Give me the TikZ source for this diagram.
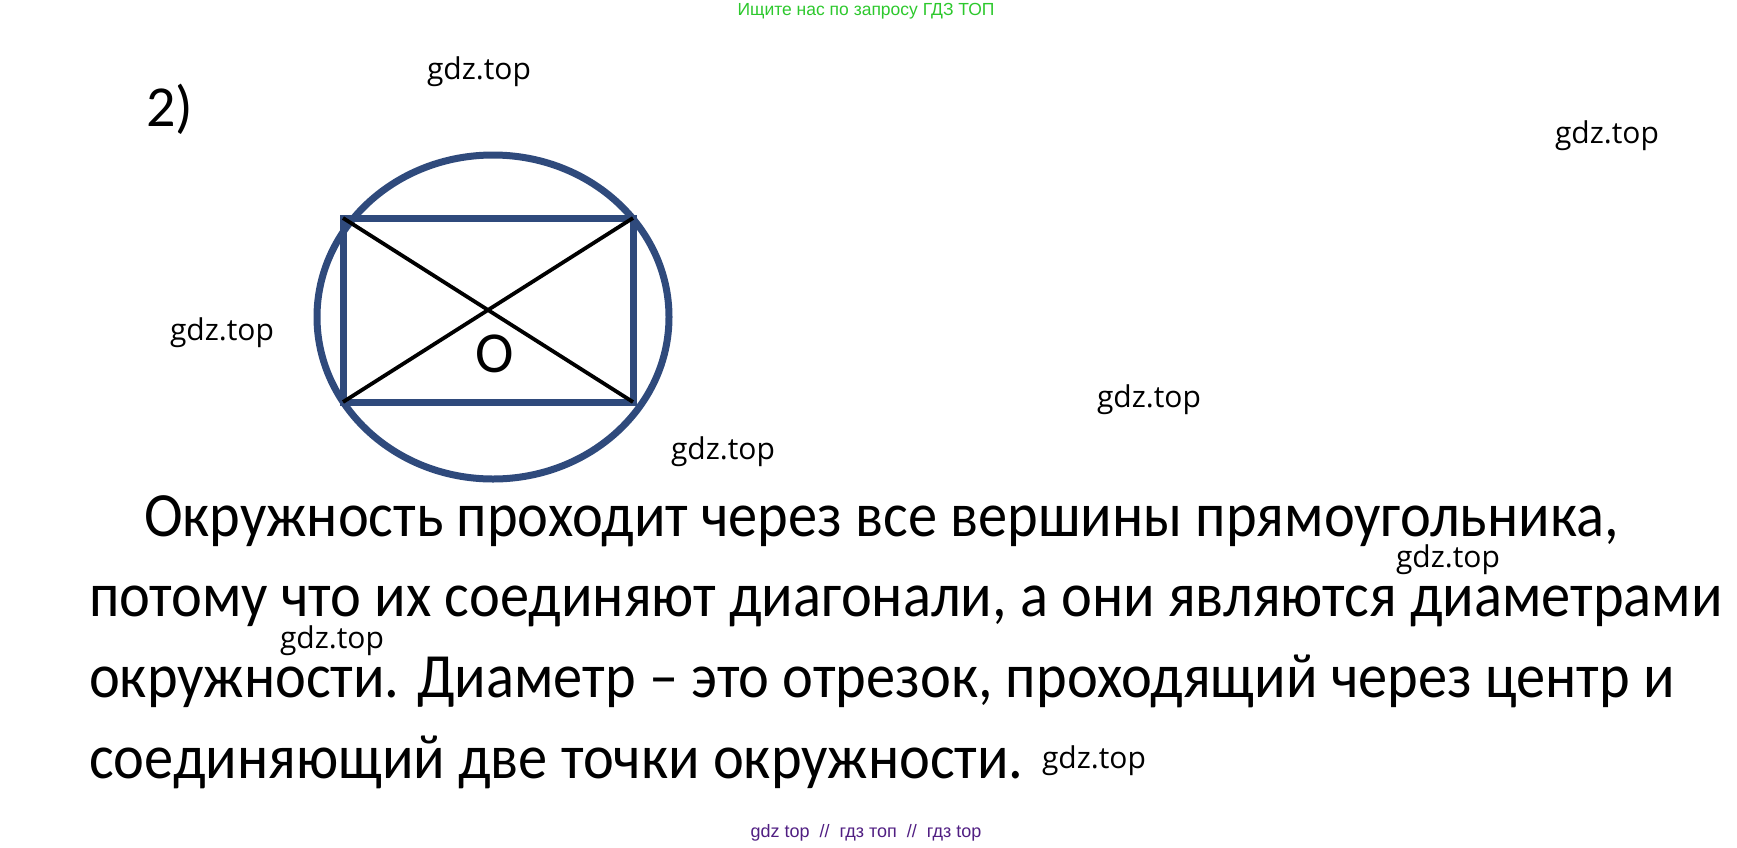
\documentclass[tikz,border=0pt]{standalone}
\usepackage{fontspec}
\setmainfont{Carlito}
\newfontfamily\wmfont{Open Sans}
\newfontfamily\topfont{Liberation Sans}
\definecolor{circblue}{RGB}{47,74,124}
\definecolor{topgreen}{RGB}{45,200,45}
\definecolor{botpurple}{RGB}{80,30,130}
\newcommand{\bodytext}[1]{\scalebox{0.927}[1]{#1}}
\tikzset{
  px/.style={x=1pt,y=-1pt},
  wm/.style={font=\wmfont\fontsize{30}{32}\selectfont, inner sep=0pt, text=black},
  bodyline/.style={font=\fontsize{63}{70}\selectfont, anchor=base west, inner sep=0pt},
  shapeline/.style={draw=circblue, line width=7pt},
  diag/.style={draw=black, line width=3.8pt}
}
\begin{document}
\begin{tikzpicture}[px]
\useasboundingbox (0,0) rectangle (1737,847);
% header / footer
\node[font=\topfont\fontsize{17.5}{20}\selectfont, text=topgreen, inner sep=0pt] (hdr) at (866,11) {Ищите нас по запросу ГДЗ ТОП};
\node[font=\topfont\fontsize{18}{20}\selectfont, text=botpurple, inner sep=0pt] (ftr) at (866,833) {gdz top \ // \ гдз топ \ // \ гдз top};
% number
\node[font=\fontsize{58}{60}\selectfont, anchor=base west, inner sep=0pt] (num) at (146,126) {2)};
% figure
\coordinate (A) at (343,218);
\coordinate (B) at (633,218);
\coordinate (C) at (633,402);
\coordinate (D) at (343,402);
\draw[shapeline] (493,317) ellipse [x radius=176, y radius=162];
\draw[shapeline] (A) -- (B) -- (C) -- (D) -- cycle;
\draw[diag] (A) -- (C);
\draw[diag] (D) -- (B);
\node[font=\fontsize{58}{60}\selectfont, inner sep=0pt] (O) at (495,354) {O};
% body text
\node[bodyline] (l1) at (144,536) {\bodytext{Окружность проходит через все вершины прямоугольника,}};
\node[bodyline] (l2) at (89,616) {\bodytext{потому что их соединяют диагонали, а они являются диаметрами}};
\node[bodyline] (l3) at (89,697) {\bodytext{окружности. Диаметр – это отрезок, проходящий через центр и}};
\node[bodyline] (l4) at (89,778) {\bodytext{соединяющий две точки окружности.}};
% watermarks
\node[wm] (w1) at (479,72) {gdz.top};
\node[wm] (w2) at (1607,136) {gdz.top};
\node[wm] (w3) at (222,333) {gdz.top};
\node[wm] (w4) at (1149,400) {gdz.top};
\node[wm] (w5) at (723,452) {gdz.top};
\node[wm] (w6) at (1448,560) {gdz.top};
\node[wm] (w7) at (332,641) {gdz.top};
\node[wm] (w8) at (1094,761) {gdz.top};
\end{tikzpicture}
\end{document}
